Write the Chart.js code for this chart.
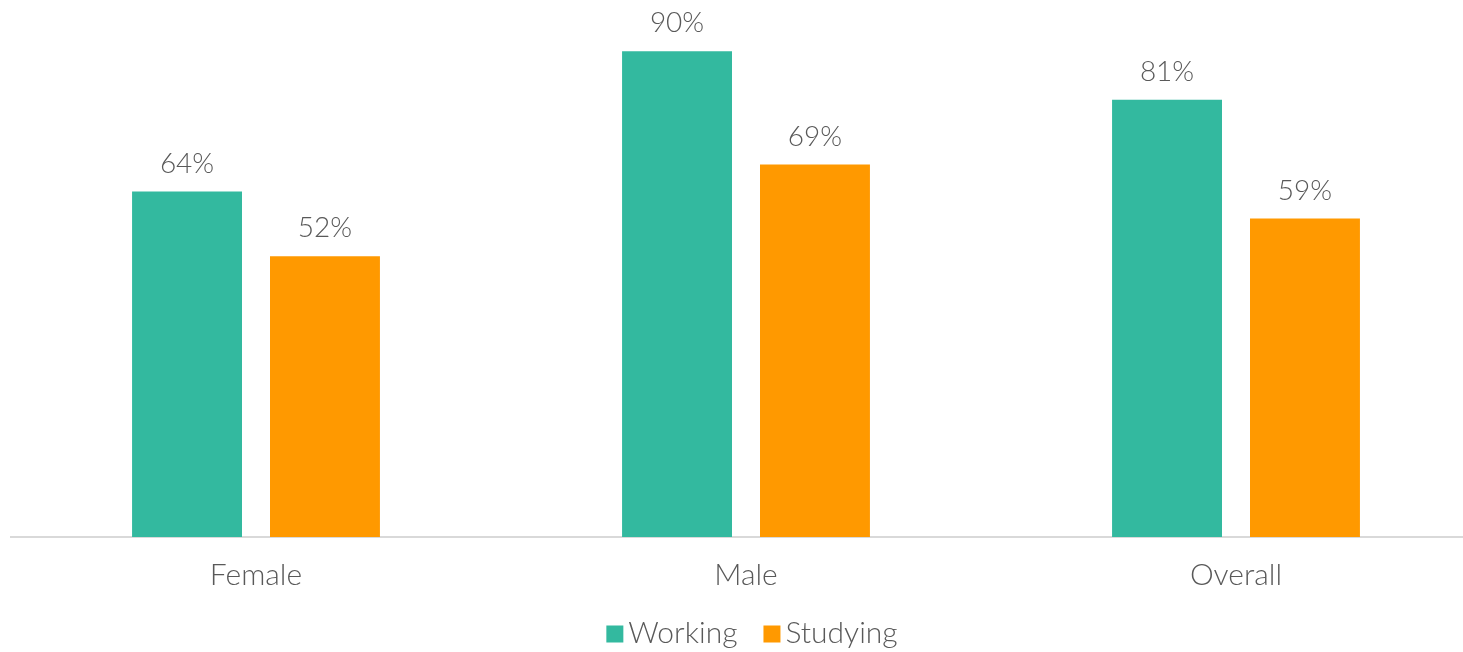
<!DOCTYPE html>
<html>
<head>
<meta charset="utf-8">
<script src="https://cdn.jsdelivr.net/npm/chart.js@4.4.0/dist/chart.umd.min.js"></script>
<style>
  body { margin: 0; overflow: hidden; background: #fff; }
  #wrap { width: 1481px; height: 652px; }
</style>
</head>
<body>
<div id="wrap"><canvas id="chart" width="1481" height="652"></canvas></div>
<script>
const categories = ["Female", "Male", "Overall"];
const working = [64, 90, 81];
const studying = [52, 69, 59];
const seriesNames = ["Working", "Studying"];

const textColor = "#595959";
Chart.defaults.font.family = "Lato";
Chart.defaults.font.weight = 300;
Chart.defaults.color = textColor;

// value labels above the bars
const barValues = {
  id: "barValues",
  afterDatasetsDraw(chart) {
    const ctx = chart.ctx;
    ctx.save();
    ctx.font = "300 28px Lato";
    ctx.fillStyle = textColor;
    ctx.textAlign = "center";
    ctx.textBaseline = "alphabetic";
    chart.data.datasets.forEach((ds, i) => {
      chart.getDatasetMeta(i).data.forEach((bar, j) => {
        ctx.fillText(ds.data[j] + "%", bar.x, bar.y - 19);
      });
    });
    ctx.restore();
  }
};

// legend drawn by hand so the box/text gap is tight like the original
const boxLegend = {
  id: "boxLegend",
  afterDraw(chart) {
    const ctx = chart.ctx;
    const box = 17, gap = 5, itemGap = 26;
    ctx.save();
    ctx.font = "300 30px Lato";
    ctx.textBaseline = "middle";
    ctx.textAlign = "left";
    const items = chart.data.datasets.map(ds => ({
      label: ds.label, color: ds.backgroundColor, w: ctx.measureText(ds.label).width
    }));
    let total = 0;
    items.forEach((it, i) => { total += box + gap + it.w + (i ? itemGap : 0); });
    let x = (chart.chartArea.left + chart.chartArea.right) / 2 + 6 - total / 2;
    const y = 633;
    items.forEach(it => {
      ctx.fillStyle = it.color;
      ctx.fillRect(x, y - box / 2 + 1, box, box);
      ctx.fillStyle = textColor;
      ctx.fillText(it.label, x + box + gap, y);
      x += box + gap + it.w + itemGap;
    });
    ctx.restore();
  }
};

new Chart(document.getElementById("chart").getContext("2d"), {
  type: "bar",
  data: {
    labels: categories,
    datasets: [
      { label: seriesNames[0], data: working, backgroundColor: "#33b99f" },
      { label: seriesNames[1], data: studying, backgroundColor: "#ff9900" }
    ]
  },
  options: {
    responsive: false,
    animation: false,
    categoryPercentage: 0.563,
    barPercentage: 0.797,
    layout: { padding: { left: 11, right: 0, top: 0, bottom: 39 } },
    plugins: {
      legend: { display: false },
      tooltip: { enabled: false }
    },
    scales: {
      x: {
        grid: { display: false, drawTicks: false },
        border: { color: "#d9d9d9", width: 2 },
        ticks: { padding: 20, font: { size: 30, weight: 300 }, color: textColor }
      },
      y: {
        display: false,
        min: 0,
        max: 99.5
      }
    }
  },
  plugins: [barValues, boxLegend]
});
</script>
</body>
</html>
